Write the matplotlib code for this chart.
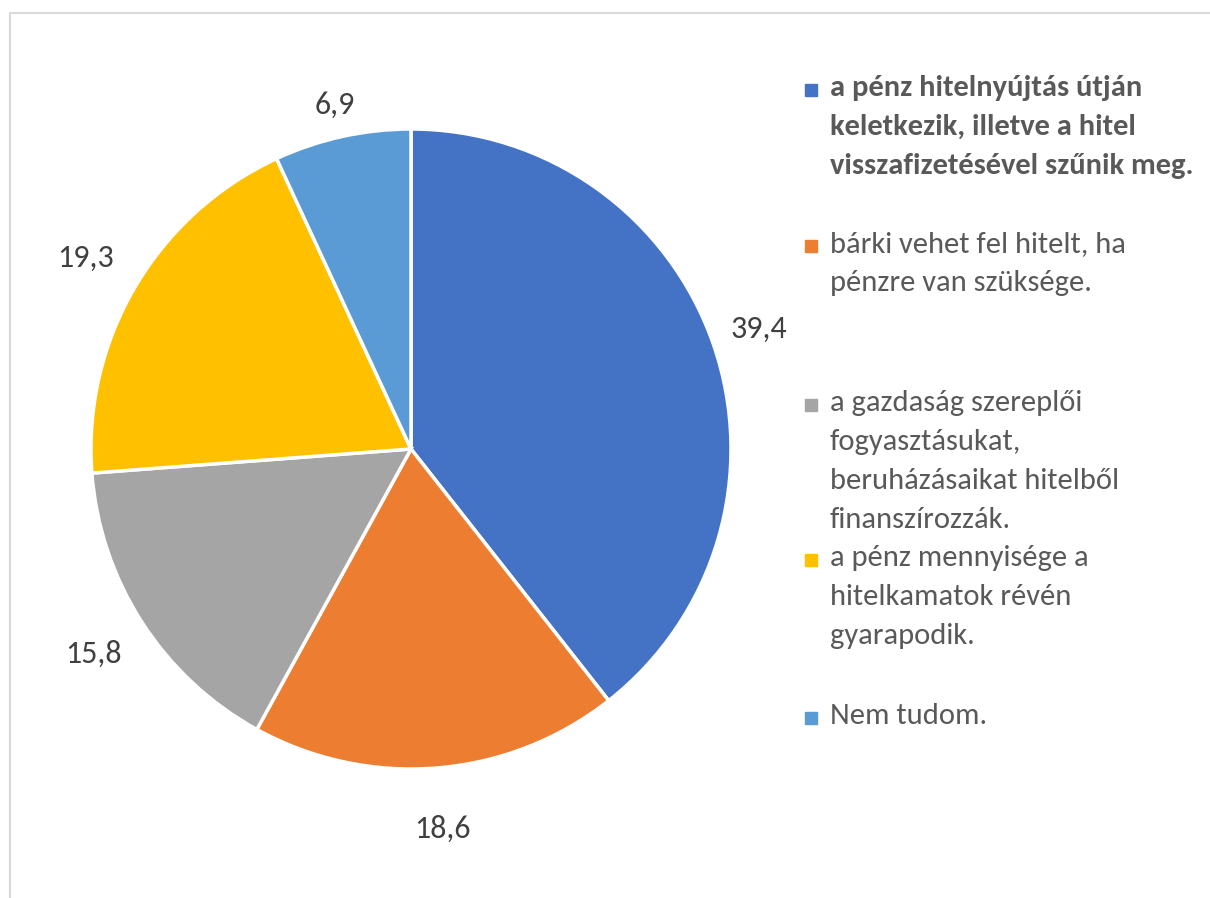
import matplotlib.pyplot as plt
from matplotlib.patches import Rectangle

# answer categories (legend text, wrapped like the original)
categories = [
    "a pénz hitelnyújtás útján\nkeletkezik, illetve a hitel\nvisszafizetésével szűnik meg.",
    "bárki vehet fel hitelt, ha\npénzre van szüksége.",
    "a gazdaság szereplői\nfogyasztásukat,\nberuházásaikat hitelből\nfinanszírozzák.",
    "a pénz mennyisége a\nhitelkamatok révén\ngyarapodik.",
    "Nem tudom.",
]
values = [39.4, 18.6, 15.8, 19.3, 6.9]
colors = ["#4472C4", "#ED7D31", "#A5A5A5", "#FFC000", "#5B9BD5"]

W, H = 1210, 898
plt.rcParams['font.family'] = ['Carlito', 'Lato', 'DejaVu Sans']
fig = plt.figure(figsize=(W / 100, H / 100), dpi=100)

# light chart frame (right and bottom edges are cut off in the original)
fig.patches.append(Rectangle((10 / W, -0.05), 1.1, (H - 13) / H + 0.05,
                             transform=fig.transFigure, fill=False,
                             edgecolor="#D9D9D9", linewidth=1.5))

# pie centre at (411, 449) px, radius 320 px
cx, cy, R = 411, 449, 320
ext = 1.25
ax = fig.add_axes([(cx - R * ext) / W, (H - cy - R * ext) / H,
                   2 * R * ext / W, 2 * R * ext / H])
wedges, texts, autotexts = ax.pie(
    values, colors=colors, startangle=90, counterclock=False,
    autopct=lambda p: f"{p:.1f}".replace(".", ","), pctdistance=1.0,
    wedgeprops=dict(edgecolor="white", linewidth=2.5),
    textprops=dict(fontsize=23, color="#404040"))
# outside-end label distances, roughly as Excel placed them
label_dist = [1.15, 1.19, 1.18, 1.18, 1.10]
for t, d in zip(autotexts, label_dist):
    x, y = t.get_position()
    t.set_position((x * d, y * d))
ax.set_xlim(-ext, ext)
ax.set_ylim(-ext, ext)
ax.set_aspect("equal")
ax.axis("off")

# legend drawn by hand: uneven spacing between items as in the original
item_y = [88, 244, 403, 558, 716]
line_h = 39
for i, (lab, col) in enumerate(zip(categories, colors)):
    y0 = item_y[i]
    fig.patches.append(Rectangle((805 / W, (H - y0 - 8) / H), 12 / W, 12 / H,
                                 transform=fig.transFigure, color=col))
    for j, line in enumerate(lab.split("\n")):
        fig.text(830 / W, (H - y0 - j * line_h) / H, line, fontsize=22,
                 color="#595959", va="center", ha="left",
                 fontweight="bold" if i == 0 else "normal")

fig.savefig("out.png", dpi=100)
